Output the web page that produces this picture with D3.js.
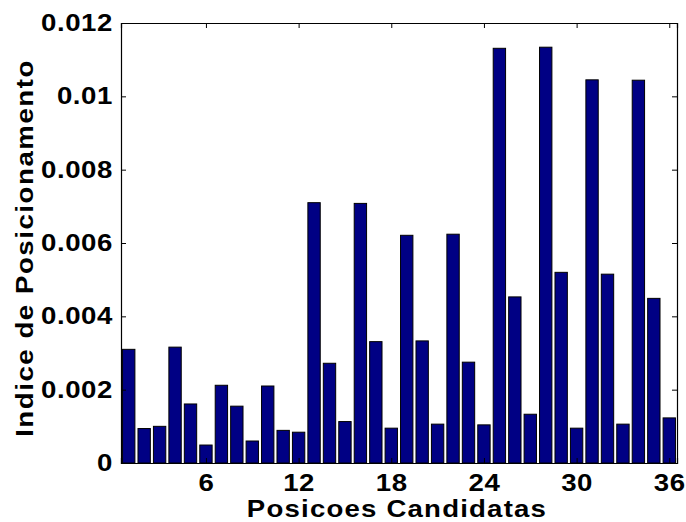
<!DOCTYPE html>
<html>

<head>
    <title>indice</title>
    <script src="https://d3js.org/d3.v7.min.js"></script>
    <style>
        body { margin: 0; background: #fff; }
        text { font-family: "Liberation Sans", Arial, sans-serif; font-weight: bold; fill: #000; }
    </style>
</head>

<body>
    <svg width="686" height="522" id="mainsvg"></svg>
    <script>
        // valores
        const posicoes = d3.range(1, 37);
        const indice = [
            0.00310, 0.00094, 0.00100, 0.00316, 0.00161, 0.00049,
            0.00212, 0.00155, 0.00060, 0.00210, 0.00089, 0.00084,
            0.00710, 0.00272, 0.00113, 0.00708, 0.00331, 0.00095,
            0.00621, 0.00333, 0.00106, 0.00624, 0.00275, 0.00104,
            0.01131, 0.00453, 0.00133, 0.01134, 0.00520, 0.00095,
            0.01045, 0.00515, 0.00106, 0.01044, 0.00449, 0.00123
        ];
        const xTicks = [6, 12, 18, 24, 30, 36];
        const yTicks = [0, 0.002, 0.004, 0.006, 0.008, 0.01, 0.012];

        const svg = d3.select('#mainsvg');
        const margin = { top: 23, right: 9, bottom: 59, left: 121 };
        const innerWidth = 686 - margin.left - margin.right;
        const innerHeight = 522 - margin.top - margin.bottom;
        const g = svg.append('g')
            .attr('transform', `translate(${margin.left},${margin.top})`);

        const x = d3.scaleLinear().domain([0.5, 36.5]).range([0, innerWidth]);
        const y = d3.scaleLinear().domain([0, 0.012]).range([innerHeight, 0]);
        const bw = (x(1) - x(0)) * 0.8;
        const sx = 1.2; // texto mais largo, como no original

        // barras
        g.selectAll('rect.bar').data(posicoes)
            .enter().append('rect')
            .attr('class', 'bar')
            .attr('x', d => x(d) - bw / 2)
            .attr('y', d => y(indice[d - 1]))
            .attr('width', bw)
            .attr('height', d => innerHeight - y(indice[d - 1]))
            .attr('fill', '#000084')
            .attr('stroke', '#000')
            .attr('stroke-width', 1);

        // eixos (ticks para dentro, caixa fechada)
        const tk = 5;
        const xAxis = d3.axisBottom(x).tickValues(xTicks).tickSize(-tk).tickPadding(12);
        const yAxis = d3.axisLeft(y).tickValues(yTicks).tickSize(-tk).tickPadding(9)
            .tickFormat(d => d3.format('')(+d.toFixed(3)));
        const xTop = d3.axisTop(x).tickValues(xTicks).tickSize(-tk).tickFormat('');
        const yRight = d3.axisRight(y).tickValues(yTicks).tickSize(-tk).tickFormat('');

        const styleAxis = sel => {
            sel.selectAll('path').attr('stroke', '#000').attr('stroke-width', 1.2);
            sel.selectAll('line').attr('stroke', '#000');
            sel.selectAll('text')
                .style('font-size', '23px')
                .style('letter-spacing', '0.5px')
                .style('font-family', '"Liberation Sans", Arial, sans-serif')
                .style('font-weight', 'bold');
        };

        g.append('g').attr('transform', `translate(0,${innerHeight})`).call(xAxis).call(styleAxis)
            .selectAll('text').attr('transform', `scale(${sx},1)`);
        g.append('g').call(yAxis).call(styleAxis)
            .selectAll('text').attr('x', -8 / sx).attr('transform', `scale(${sx},1)`);
        g.append('g').call(xTop).call(styleAxis);
        g.append('g').attr('transform', `translate(${innerWidth},0)`).call(yRight).call(styleAxis);

        // titulos
        svg.append('text')
            .attr('transform', `translate(${margin.left + innerWidth / 2 - 2},517) scale(${sx},1)`)
            .attr('text-anchor', 'middle')
            .style('font-size', '23px')
            .style('letter-spacing', '1px')
            .text('Posicoes Candidatas');

        svg.append('text')
            .attr('transform', `translate(33,248) rotate(-90) scale(${sx},1)`)
            .attr('text-anchor', 'middle')
            .style('font-size', '23px')
            .style('letter-spacing', '1.3px')
            .text('Indice de Posicionamento');
    </script>
</body>

</html>
